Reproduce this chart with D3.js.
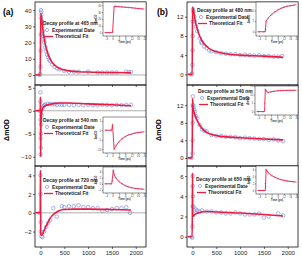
<!DOCTYPE html>
<html>
<head>
<meta charset="utf-8">
<script src="https://cdn.jsdelivr.net/npm/d3@7"></script>
<style>
  body { margin: 0; background: #fff; }
  svg { display: block; font-family: "Liberation Sans", Arial, sans-serif; }
</style>
</head>
<body>
<script>
// ---- data ----
const wavelengths = ['465', '540', '720', '480', '540', '650'];
const timeTicks = [0, 500, 1000, 1500, 2000];
const yTicks = [[0, 10, 20, 30, 40], [-10, -5, 0, 5], [-2, 0, 2, 4], [0, 4, 8, 12], [0, 4, 8, 12], [0, 2, 4, 6]];
const insetTimeTicks = [-4, 0, 4, 8, 12, 16, 20];

// main panels: [time (ps), ΔmOD]
const exp465 = [[-20, 0], [-10, 0.5], [0, 5], [2, 15], [5, 25], [8, 35], [10, 40], [15, 39], [20, 37], [30, 33], [40, 30],
  [50, 27], [60, 24], [70, 22], [80, 20], [100, 17], [120, 14.5], [140, 12.5], [160, 11], [180, 9.5], [200, 8.5], [250, 6.5],
  [300, 5], [350, 4], [400, 3.5], [500, 2.5], [600, 2], [700, 2], [800, 2], [1000, 2], [1200, 1.5], [1300, 1.5], [1400, 1.5],
  [1500, 1.5], [1600, 1.5], [1800, 2], [1850, 1.8], [1900, 1.8]];
const fit465 = [[-100, 0], [-5, 0], [5, 38], [20, 36], [50, 28], [100, 19], [150, 13.5], [200, 10], [250, 7.5], [300, 6],
  [400, 4], [500, 3], [600, 2.5], [800, 2], [1000, 1.8], [1500, 1.5], [1900, 1.4]];

const exp540a = [[-20, 0], [0, 4], [1, 2], [2, -2], [3, -6], [4, -9.5], [6, -8], [10, -5], [15, -3], [25, -1], [40, 0.5],
  [60, 1.0], [80, 1.2], [100, 1.4], [150, 1.5], [200, 1.5], [250, 1.4], [300, 1.4], [350, 1.3], [400, 1.4], [450, 1.3],
  [500, 1.3], [600, 1.3], [700, 1.2], [800, 1.3], [900, 1.2], [1000, 1.3], [1100, 1.2], [1200, 1.2], [1300, 1.3],
  [1400, 1.3], [1500, 1.2], [1600, 1.3], [1700, 1.2], [1800, 1.3], [1900, 1.3]];
const fit540a = [[-100, 0], [-5, 0], [0, 3], [3, -10], [10, -3], [30, 0], [60, 0.8], [100, 1.1], [200, 1.4], [300, 1.6],
  [400, 1.7], [600, 1.7], [1000, 1.5], [1500, 1.3], [1900, 1.1]];

const exp720 = [[-20, 0], [0, 4], [2, 2], [4, -1], [6, -2], [20, -2.5], [40, -2.6], [80, -2], [120, -1.5], [160, -1.1],
  [200, -0.8], [270, 0.5], [340, -0.4], [450, 0.7], [500, 0.6], [600, 0.7], [700, 0.7], [800, 0.8], [900, 0.6],
  [1000, 0.6], [1100, 0.5], [1200, 0.5], [1300, 0.2], [1400, 0.3], [1500, 0.4], [1600, 0.5], [1700, 0.5], [1800, 0.6], [1880, 0]];
const fit720 = [[-100, 0], [-5, 0], [0, 4.5], [5, -2.3], [30, -2.4], [60, -2.1], [100, -1.6], [150, -1.1], [200, -0.6],
  [300, -0.05], [400, 0.25], [500, 0.35], [700, 0.4], [1000, 0.4], [1500, 0.35], [1900, 0.3]];

const exp480 = [[-20, 0], [-10, 0.2], [0, 2], [2, 5], [4, 8], [6, 11], [10, 13.5], [20, 13], [35, 12], [50, 11], [75, 10],
  [100, 9], [150, 7.5], [183, 6.7], [200, 6.5], [250, 5.8], [300, 5.5], [350, 5], [400, 4.8], [500, 4.6], [600, 4.4],
  [700, 4.3], [800, 4.2], [900, 4.2], [1000, 4], [1100, 4.1], [1200, 4], [1300, 3.9], [1400, 4], [1500, 3.8], [1600, 3.8],
  [1700, 3.7], [1800, 3.7], [1880, 3.8]];
const fit480 = [[-100, 0], [-5, 0], [0, 14], [20, 13.5], [50, 11.5], [100, 9.5], [150, 8], [200, 7], [300, 5.8], [400, 5.1],
  [500, 4.7], [700, 4.3], [1000, 4.0], [1500, 3.8], [1900, 3.55]];

const exp540b = [[-20, 0], [0, 1], [2, 4], [4, 8], [6, 12], [8, 14], [15, 12], [20, 11.5], [35, 11], [50, 10.5], [75, 9.5],
  [100, 9], [150, 7.5], [200, 6.5], [250, 6.2], [300, 6], [400, 5.2], [500, 5], [600, 5], [700, 4.8], [800, 4.8],
  [900, 4.7], [1000, 4.5], [1100, 4.6], [1200, 4.5], [1300, 4.4], [1400, 4.3], [1500, 4.3], [1600, 4.1], [1700, 4.2],
  [1800, 4.0], [1900, 3.8]];
const fit540b = [[-100, 0], [-5, 0], [0, 13.5], [10, 11.5], [30, 10.5], [100, 8.5], [200, 6.7], [300, 5.8], [400, 5.3],
  [600, 4.9], [1000, 4.6], [1500, 4.3], [1900, 4.1]];

const exp650 = [[-20, 0], [-5, -0.1], [0, 1], [2, 3], [4, 5], [6, 6], [10, 4], [20, 3], [40, 2.6], [70, 2.7], [100, 2.6],
  [150, 2.5], [200, 2.6], [300, 2.5], [400, 2.5], [500, 2.4], [600, 2.4], [700, 2.3], [800, 2.3], [900, 2.4], [1000, 2.3],
  [1100, 2.2], [1200, 2.2], [1300, 2.2], [1400, 2.3], [1500, 1.9], [1600, 2.0], [1800, 2.3], [1900, 2.1]];
const fit650 = [[-100, 0], [-5, 0], [0, 6.3], [5, 2.0], [50, 2.2], [150, 2.4], [300, 2.5], [500, 2.45], [1000, 2.35],
  [1500, 2.2], [1900, 2.05]];

// insets: [time (ps), ΔmOD]
const insetExp465 = [[-4, 0], [-2, 0], [0, 1], [1, 38], [2, 39], [4, 38.5], [6, 38], [8, 37.5], [10, 37], [12, 36.5], [14, 36], [16, 35.5], [18, 35]];
const insetFit465 = [[-5, 0], [0, 0], [1, 38.5], [4, 38], [10, 37], [16, 35.5], [20, 34.5]];
const insetExp540a = [[-4, 0], [-1, 0], [0, 3], [1, -10], [2, -8], [4, -6], [6, -4.5], [8, -3.5], [10, -2.5], [12, -2], [14, -1.5], [16, -1.2], [18, -1]];
const insetFit540a = [[-5, 0], [-0.5, 0], [0, 3], [1, -10], [2, -8.5], [4, -6], [6, -4.4], [8, -3.3], [10, -2.5], [14, -1.5], [18, -1], [20, -0.8]];
const insetExp720 = [[-4, 0], [-1, 0], [0, 1], [0.5, 4.5], [1, 3], [2, 2], [4, 0.8], [6, 0], [8, -0.6], [10, -1], [12, -1.3], [14, -1.5], [16, -1.6], [18, -1.7]];
const insetFit720 = [[-5, 0], [-0.5, 0], [0.5, 4.5], [1, 3], [2, 2], [4, 0.7], [6, 0], [8, -0.6], [10, -1], [14, -1.5], [20, -1.8]];
const insetExp480 = [[-4, 0], [-1, 0], [0, 1], [0.5, 5], [2, 6.5], [4, 8], [6, 9.3], [8, 10.3], [10, 11], [12, 11.6], [14, 12], [16, 12.3], [18, 12.5]];
const insetFit480 = [[-5, 0], [0, 0], [0.5, 5], [2, 6.6], [4, 8.1], [6, 9.3], [8, 10.2], [10, 11], [14, 12], [18, 12.5], [20, 12.7]];
const insetExp540b = [[-4, 0], [-1, 0], [0, 5], [0.5, 13], [1, 12], [2, 11], [4, 11.5], [6, 12], [8, 12.2], [10, 12.3], [12, 12.4], [14, 12.4], [16, 12.5], [18, 12.5]];
const insetFit540b = [[-5, 0], [0, 0], [0.5, 13], [2, 11.2], [4, 11.6], [8, 12.2], [12, 12.4], [20, 12.5]];
const insetExp650 = [[-4, 0], [-1, 0], [0, 2], [0.5, 6], [1, 5.5], [2, 5], [4, 4.3], [6, 3.8], [8, 3.4], [10, 3.1], [12, 2.9], [14, 2.7], [16, 2.6], [18, 2.5]];
const insetFit650 = [[-5, 0], [0, 0], [0.5, 6], [2, 5], [4, 4.3], [6, 3.8], [10, 3.1], [14, 2.7], [20, 2.4]];

const mainExp = [exp465, exp540a, exp720, exp480, exp540b, exp650];
const mainFit = [fit465, fit540a, fit720, fit480, fit540b, fit650];
const insetExp = [insetExp465, insetExp540a, insetExp720, insetExp480, insetExp540b, insetExp650];
const insetFit = [insetFit465, insetFit540a, insetFit720, insetFit480, insetFit540b, insetFit650];

// ---- layout ----
const W = 302, H = 258;
const cols = [[35, 146], [187, 298]];
const rows = [[2, 85], [85, 166], [166, 247]];
const yDomains = [[-6.2, 45], [-12, 5.6], [-3.65, 5], [-2.2, 15.05], [-1.85, 16.6], [-1.02, 7]];
const insetBoxes = [[103, 2, 146, 36], [103, 117, 146, 153], [103, 167, 146, 193], [256, 2, 298, 36], [255, 86, 298, 115], [256, 166, 298, 194]];
const insetYDomains = [[-5, 45], [-12, 7], [-3, 5.5], [-2, 14], [-2, 15], [-1, 7]];
const legendPos = [[43, 23], [43, 120], [43, 180], [197, 10], [198, 91], [196, 179]];
const zeroLine = [true, true, true, false, false, false];

const red = '#ee1b3f', blue = '#8090e0';

const svg = d3.select('body').append('svg').attr('width', W).attr('height', H);

const line = (x, y) => d3.line().x(d => x(d[0])).y(d => y(d[1])).curve(d3.curveMonotoneX);

mainExp.forEach((exp, i) => {
  const c = Math.floor(i / 3), r = i % 3;
  const [x0, x1] = cols[c], [y0, y1] = rows[r];
  const x = d3.scaleLinear().domain([-115, 2215]).range([x0, x1]);
  const y = d3.scaleLinear().domain(yDomains[i]).range([y1, y0]);
  const g = svg.append('g');

  g.append('clipPath').attr('id', `clip${i}`)
    .append('rect').attr('x', x0).attr('y', y0).attr('width', x1 - x0).attr('height', y1 - y0);

  if (zeroLine[i]) {
    g.append('line').attr('x1', x0).attr('x2', x1).attr('y1', y(0)).attr('y2', y(0))
      .attr('stroke', '#999').attr('stroke-width', 0.8);
  }

  const plot = g.append('g').attr('clip-path', `url(#clip${i})`);
  plot.selectAll('circle').data(exp).enter().append('circle')
    .attr('cx', d => x(d[0])).attr('cy', d => y(d[1])).attr('r', 1.8)
    .attr('fill', 'none').attr('stroke', blue).attr('stroke-width', 0.7);
  plot.append('path').datum(mainFit[i]).attr('d', line(x, y))
    .attr('fill', 'none').attr('stroke', red).attr('stroke-width', 1.6);

  // axes
  const yAxis = g.append('g').attr('transform', `translate(${x0},0)`)
    .call(d3.axisLeft(y).tickValues(yTicks[i]).tickSize(2).tickPadding(1.5));
  yAxis.selectAll('text').attr('font-size', 6).attr('fill', '#222');
  const xAxis = g.append('g').attr('transform', `translate(0,${y1})`)
    .call(d3.axisBottom(x).tickValues(timeTicks).tickSize(2).tickPadding(1.5)
      .tickFormat(r === 2 ? d3.format('d') : ''));
  xAxis.selectAll('text').attr('font-size', 6).attr('fill', '#222');
  [yAxis, xAxis].forEach(a => {
    a.select('.domain').remove();
    a.selectAll('line').attr('stroke-width', 0.6);
  });
  g.append('rect').attr('x', x0).attr('y', y0).attr('width', x1 - x0).attr('height', y1 - y0)
    .attr('fill', 'none').attr('stroke', '#111').attr('stroke-width', 0.8);

  // legend
  const [lx, ly] = legendPos[i];
  const leg = g.append('g').attr('font-weight', 'bold').attr('font-size', 4.9).attr('fill', '#222');
  leg.append('text').attr('x', lx).attr('y', ly).attr('dy', '0.35em').text(`Decay profile at ${wavelengths[i]} nm`);
  leg.append('circle').attr('cx', lx + 4).attr('cy', ly + 7).attr('r', 1.6)
    .attr('fill', 'none').attr('stroke', blue).attr('stroke-width', 0.7);
  leg.append('text').attr('x', lx + 9).attr('y', ly + 7).attr('dy', '0.35em').text('Experimental Date');
  leg.append('line').attr('x1', lx + 1).attr('x2', lx + 10).attr('y1', ly + 13.5).attr('y2', ly + 13.5)
    .attr('stroke', red).attr('stroke-width', 1.3);
  leg.append('text').attr('x', lx + 12).attr('y', ly + 13.5).attr('dy', '0.35em').text('Theoretical Fit');

  // inset
  const [ix0, iy0, ix1, iy1] = insetBoxes[i];
  const ix = d3.scaleLinear().domain([-6, 21]).range([ix0, ix1]);
  const iy = d3.scaleLinear().domain(insetYDomains[i]).range([iy1, iy0]);
  const ig = g.append('g');
  ig.append('rect').attr('x', ix0).attr('y', iy0).attr('width', ix1 - ix0).attr('height', iy1 - iy0).attr('fill', '#fff');
  ig.selectAll('circle').data(insetExp[i]).enter().append('circle')
    .attr('cx', d => ix(d[0])).attr('cy', d => iy(d[1])).attr('r', 0.7)
    .attr('fill', 'none').attr('stroke', blue).attr('stroke-width', 0.4);
  ig.append('path').datum(insetFit[i]).attr('d', d3.line().x(d => ix(d[0])).y(d => iy(d[1])))
    .attr('fill', 'none').attr('stroke', red).attr('stroke-width', 0.9);
  const ixa = ig.append('g').attr('transform', `translate(0,${iy1})`)
    .call(d3.axisBottom(ix).tickValues(insetTimeTicks).tickSize(1).tickPadding(0.8));
  const iya = ig.append('g').attr('transform', `translate(${ix0},0)`)
    .call(d3.axisLeft(iy).ticks(4).tickSize(1).tickPadding(0.8));
  [ixa, iya].forEach(a => {
    a.select('.domain').remove();
    a.selectAll('line').attr('stroke-width', 0.4);
    a.selectAll('text').attr('font-size', 2.6).attr('fill', '#333');
  });
  ig.append('rect').attr('x', ix0).attr('y', iy0).attr('width', ix1 - ix0).attr('height', iy1 - iy0)
    .attr('fill', 'none').attr('stroke', '#222').attr('stroke-width', 0.5);
  ig.append('text').attr('x', (ix0 + ix1) / 2).attr('y', iy1 + 6.5).attr('text-anchor', 'middle')
    .attr('font-size', 2.8).attr('font-weight', 'bold').attr('fill', '#333').text('Time (ps)');
  ig.append('text').attr('transform', `translate(${ix0 - 6},${(iy0 + iy1) / 2}) rotate(-90)`)
    .attr('text-anchor', 'middle').attr('font-size', 2.8).attr('font-weight', 'bold').attr('fill', '#333').text('ΔmOD');
});

// panel letters and y titles
svg.append('text').attr('x', 3).attr('y', 15).attr('font-size', 8.5).attr('font-weight', 'bold').text('(a)');
svg.append('text').attr('x', 157).attr('y', 15).attr('font-size', 8.5).attr('font-weight', 'bold').text('(b)');
[[9, 130], [161, 130]].forEach(([tx, ty]) => {
  svg.append('text').attr('transform', `translate(${tx},${ty}) rotate(-90)`)
    .attr('text-anchor', 'middle').attr('font-size', 7).attr('font-weight', 'bold').text('ΔmOD');
});
</script>
</body>
</html>
